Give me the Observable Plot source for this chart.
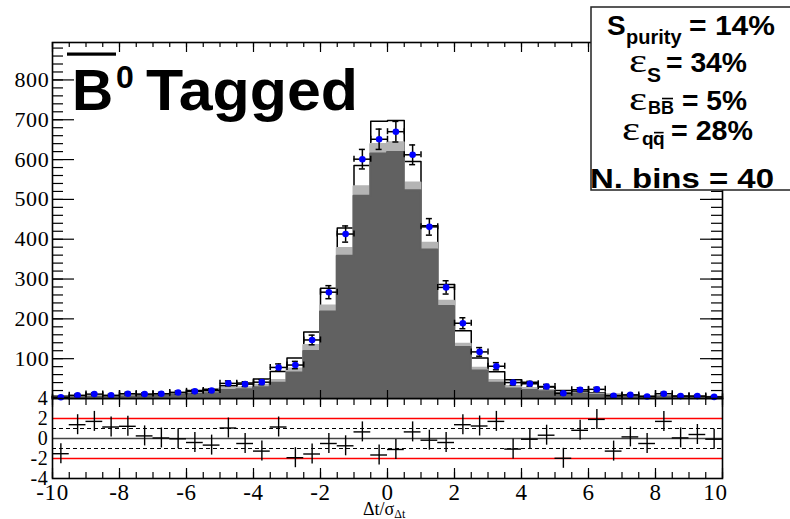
<!DOCTYPE html>
<html>
<head>
<meta charset="utf-8">
<script src="https://cdn.jsdelivr.net/npm/d3@7"></script>
<script src="https://cdn.jsdelivr.net/npm/@observablehq/plot@0.6"></script>
<style>
  body { margin: 0; background: #fff; }
  #chart { position: relative; width: 790px; height: 519px; overflow: hidden; background: #fff; }
  #chart > svg { position: absolute; left: 0; top: 0; }
</style>
</head>
<body>
<div id="chart"></div>
<script>
// Δt/σ(Δt) histogram: 40 bins from -10 to 10
const xMin = -10, xMax = 10, binWidth = 0.5;
const binLow = d3.range(xMin, xMax, binWidth);

// Observed B̄0-tagged candidates per bin
const dataCounts = [3, 8, 11, 8, 12, 11, 12, 15, 18, 20, 38, 36, 41, 78, 84, 147, 267, 413, 601, 651,
                    670, 612, 431, 279, 189, 117, 81, 40, 37, 30, 13, 22, 23, 7, 9, 5, 12, 6, 6, 4];

// Stacked expectation: top of the full stack (signal + BB̄ + qq̄)
const stackTotal = [6, 4, 5, 5, 8, 10, 12, 15, 20, 23, 32, 39, 49, 68, 102, 167, 277, 428, 585, 696,
                    698, 595, 434, 286, 170, 102, 67, 47, 41, 29, 20, 18, 14, 10, 9, 6, 6, 6, 5, 4];
// top of BB̄ + qq̄
const stackBBbar = [4, 3, 4, 4, 6, 7, 9, 11, 14, 16, 25, 27, 33, 45, 74, 133, 232, 377, 532, 638,
                    642, 541, 390, 244, 136, 76, 45, 30, 25, 20, 14, 13, 10, 8, 7, 5, 5, 4, 4, 3];
// qq̄ continuum only
const stackQQbar = [3, 2, 3, 3, 4, 5, 7, 8, 10, 12, 20, 22, 27, 38, 64, 118, 217, 357, 508, 614,
                    618, 522, 373, 231, 128, 69, 38, 24, 20, 17, 12, 11, 8, 6, 5, 4, 4, 3, 3, 2];

// Pulls (data - expectation) / error, lower panel
const pulls = [-1.52, 1.38, 1.71, 1.15, 1.22, 0.26, 0.05, -0.03, -0.4, -0.66, 1.05, -0.5, -1.26, 1.15, -1.92, -1.55, -0.5, -0.73, 0.66, -1.65,
               -1.1, 0.66, -0.17, -0.4, 1.38, 1.25, 1.71, -1.06, -0.07, 0.33, -1.98, 0.82, 1.91, -1.26, 0.16, -0.5, 1.71, 0.06, 0.4, -0.07];

// Axis ticks and labels
const yMainTop = 894;
const yMainLabels = [100, 200, 300, 400, 500, 600, 700, 800];
const yMainMinor = d3.range(20, yMainTop, 20);
const yPullLabels = [4, 2, 0, -2, -4];
const xMajor = [-10, -8, -6, -4, -2, 0, 2, 4, 6, 8, 10];
const xMinor = d3.range(xMin, xMax + 0.001, 0.5);

// Summary box: one array of text pieces per line (sub = subscript, bar = overlined)
const statLines = [
  [{t: "S"}, {t: "purity", sub: true, size: 20}, {t: "= 14%"}],
  [{t: "ε", serif: true}, {t: "S", sub: true, size: 21}, {t: "= 34%"}],
  [{t: "ε", serif: true}, {t: "B", sub: true, size: 18}, {t: "B", sub: true, size: 18, bar: 0.72}, {t: "= 5%"}],
  [{t: "ε", serif: true}, {t: "q", sub: true, size: 19}, {t: "q", sub: true, size: 19, bar: 0.52}, {t: "= 28%"}],
  [{t: "N. bins = 40"}]
];

const rows = binLow.map((lo, i) => ({
  lo, hi: lo + binWidth, mid: lo + binWidth / 2,
  n: dataCounts[i], err: Math.sqrt(dataCounts[i]),
  total: stackTotal[i], bb: stackBBbar[i], qq: stackQQbar[i],
  pull: pulls[i]
}));
// step outline points: each bin's low edge, closed at the upper edge of the last bin
const steps = rows.map(r => ({x: r.lo, total: r.total, bb: r.bb, qq: r.qq}));
steps.push({...steps[steps.length - 1], x: xMax});

const serif = "Liberation Serif, Times New Roman, serif";
const sans = "Liberation Sans, Arial, Helvetica, sans-serif";
const tickW = 1.2;

const pullPlot = Plot.plot({
  width: 790, height: 519,
  marginLeft: 52, marginRight: 68, marginTop: 398, marginBottom: 41,
  style: {background: "transparent", overflow: "visible"},
  x: {domain: [xMin, xMax], axis: null},
  y: {domain: [-4, 4], axis: null},
  marks: [
    Plot.ruleY([0], {stroke: "#444", strokeWidth: 1.5}),
    Plot.ruleY([1, -1], {stroke: "black", strokeWidth: 1.1, strokeDasharray: "4,3"}),
    Plot.ruleY([2, -2], {stroke: "#ff0000", strokeWidth: 1.5}),
    Plot.ruleY(rows, {y: "pull", x1: "lo", x2: "hi", stroke: "black", strokeWidth: 1.4}),
    Plot.ruleX(rows, {x: "mid", y1: d => d.pull - 1, y2: d => d.pull + 1, stroke: "black", strokeWidth: 1.4}),
    // ticks: top hanging down, bottom pointing up
    Plot.ruleX(xMinor, {x: d => d, y1: 4, y2: 4, insetBottom: -7, stroke: "black", strokeWidth: tickW}),
    Plot.ruleX(xMajor, {x: d => d, y1: 4, y2: 4, insetBottom: -9, stroke: "black", strokeWidth: tickW}),
    Plot.ruleX(xMinor, {x: d => d, y1: -4, y2: -4, insetTop: -6, stroke: "black", strokeWidth: tickW}),
    Plot.ruleX(xMajor, {x: d => d, y1: -4, y2: -4, insetTop: -10, stroke: "black", strokeWidth: tickW}),
    Plot.frame({stroke: "black", strokeWidth: 1.6}),
    Plot.text(yPullLabels, {x: xMin, y: d => d, text: d => String(d), textAnchor: "end", dx: -4,
      fontSize: 20, fontFamily: serif}),
    Plot.text(xMajor.filter(d => d !== xMax), {x: d => d, y: -4, text: d => String(d), dy: 14,
      fontSize: 23, fontFamily: serif}),
    Plot.text([xMax], {x: d => d, y: -4, text: d => String(d), dy: 14, dx: -7,
      fontSize: 23, fontFamily: serif})
  ]
});

const mainPlot = Plot.plot({
  width: 790, height: 398,
  marginLeft: 52, marginRight: 68, marginTop: 42, marginBottom: 0,
  style: {background: "transparent", overflow: "visible"},
  x: {domain: [xMin, xMax], axis: null},
  y: {domain: [0, yMainTop], axis: null},
  marks: [
    Plot.areaY(steps, {x: "x", y: "total", curve: "step-after", fill: "white"}),
    Plot.lineY(steps, {x: "x", y: "total", curve: "step-after", stroke: "black", strokeWidth: 1.5}),
    Plot.areaY(steps, {x: "x", y: "bb", curve: "step-after", fill: "#b4b4b4", stroke: "#b4b4b4", strokeWidth: 2}),
    Plot.areaY(steps, {x: "x", y: "qq", curve: "step-after", fill: "#616161", stroke: "#616161", strokeWidth: 2}),
    // data points with error bars and end caps
    Plot.ruleY(rows, {y: "n", x1: "lo", x2: "hi", stroke: "black", strokeWidth: 1.5}),
    Plot.ruleX(rows, {x: "mid", y1: d => d.n - d.err, y2: d => d.n + d.err, stroke: "black", strokeWidth: 1.5}),
    Plot.ruleY(rows, {y: d => d.n + d.err, x1: "mid", x2: "mid", insetLeft: -3, insetRight: -3, stroke: "black", strokeWidth: 1.5}),
    Plot.ruleY(rows, {y: d => d.n - d.err, x1: "mid", x2: "mid", insetLeft: -3, insetRight: -3, stroke: "black", strokeWidth: 1.5}),
    Plot.ruleX(rows, {x: "lo", y1: "n", y2: "n", insetTop: -3, insetBottom: -3, stroke: "black", strokeWidth: 1.5}),
    Plot.ruleX(rows, {x: "hi", y1: "n", y2: "n", insetTop: -3, insetBottom: -3, stroke: "black", strokeWidth: 1.5}),
    Plot.dot(rows, {x: "mid", y: "n", r: 3.3, fill: "#0000ff", stroke: "none"}),
    // inward ticks on all four sides
    Plot.ruleY(yMainMinor, {y: d => d, x1: xMin, x2: xMin, insetRight: -11, stroke: "black", strokeWidth: tickW}),
    Plot.ruleY(yMainLabels, {y: d => d, x1: xMin, x2: xMin, insetRight: -22, stroke: "black", strokeWidth: tickW}),
    Plot.ruleY(yMainMinor, {y: d => d, x1: xMax, x2: xMax, insetLeft: -11, stroke: "black", strokeWidth: tickW}),
    Plot.ruleY(yMainLabels, {y: d => d, x1: xMax, x2: xMax, insetLeft: -22, stroke: "black", strokeWidth: tickW}),
    Plot.ruleX(xMinor, {x: d => d, y1: yMainTop, y2: yMainTop, insetBottom: -5, stroke: "black", strokeWidth: tickW}),
    Plot.ruleX(xMajor, {x: d => d, y1: yMainTop, y2: yMainTop, insetBottom: -10, stroke: "black", strokeWidth: tickW}),
    Plot.ruleX(xMajor, {x: d => d, y1: 0, y2: 0, insetTop: -8, stroke: "black", strokeWidth: tickW}),
    Plot.frame({stroke: "black", strokeWidth: 1.6}),
    Plot.text(yMainLabels, {x: xMin, y: d => d, text: d => String(d), textAnchor: "end", dx: -3,
      fontSize: 22, fontFamily: serif})
  ]
});

const chart = document.getElementById("chart");
chart.appendChild(pullPlot);
chart.appendChild(mainPlot);
// the serif tick labels are set slightly wide
d3.selectAll([pullPlot, mainPlot]).selectAll("text").style("letter-spacing", "0.7px");

// Title, axis title and summary box
const overlay = d3.select(chart).append("svg")
  .attr("width", 790).attr("height", 519);

function boldText(x, y, size, str) {
  return overlay.append("text")
    .attr("x", x).attr("y", y)
    .attr("font-family", sans).attr("font-weight", "bold").attr("font-size", size)
    .text(str);
}

overlay.append("rect").attr("x", 67).attr("y", 52.5).attr("width", 49).attr("height", 3.2).attr("fill", "black");
boldText(72, 110, 57, "B");
boldText(116, 88, 32, "0");
boldText(146, 110, 57, "Tagged").attr("textLength", 212).attr("lengthAdjust", "spacingAndGlyphs");

const axisTitle = overlay.append("text")
  .attr("x", 363).attr("y", 515)
  .attr("font-family", serif).attr("font-size", 18);
axisTitle.append("tspan").text("Δt/σ");
axisTitle.append("tspan").attr("font-size", 12).attr("dy", 3).text("Δt");

overlay.append("rect")
  .attr("x", 591).attr("y", 7).attr("width", 210).attr("height", 183)
  .attr("fill", "white").attr("stroke", "#222").attr("stroke-width", 1.5);

// line baselines, piece start positions and widths of the summary text
const lineBase = [35, 72, 110, 140, 188];
const subDrop = [9, 10, 4, 5, 0];
const pieceX = [[607, 626, 689], [629, 647, 666], [629, 648, 661, 682], [622, 642, 653, 671], [590]];
const pieceLen = [[null, null, 86], [18, null, 81], [18, null, null, 65], [18, null, null, 82], [184]];

statLines.forEach((pieces, li) => {
  pieces.forEach((p, i) => {
    const x = pieceX[li][i];
    const y = lineBase[li] + (p.sub ? subDrop[li] : 0);
    const size = p.size || (p.serif ? 33 : 28);
    const t = overlay.append("text")
      .attr("x", x).attr("y", y)
      .attr("font-family", p.serif ? serif : sans)
      .attr("font-weight", p.serif ? "normal" : "bold")
      .attr("font-size", size)
      .text(p.t);
    const len = pieceLen[li][i];
    if (len) t.attr("textLength", len).attr("lengthAdjust", "spacingAndGlyphs");
    if (p.bar) {
      const w = t.node().getComputedTextLength();
      const yBar = y - p.bar * size - 2.5;
      overlay.append("line")
        .attr("x1", x + 1).attr("x2", x + w - 1)
        .attr("y1", yBar).attr("y2", yBar)
        .attr("stroke", "black").attr("stroke-width", 1.6);
    }
  });
});
</script>
</body>
</html>
